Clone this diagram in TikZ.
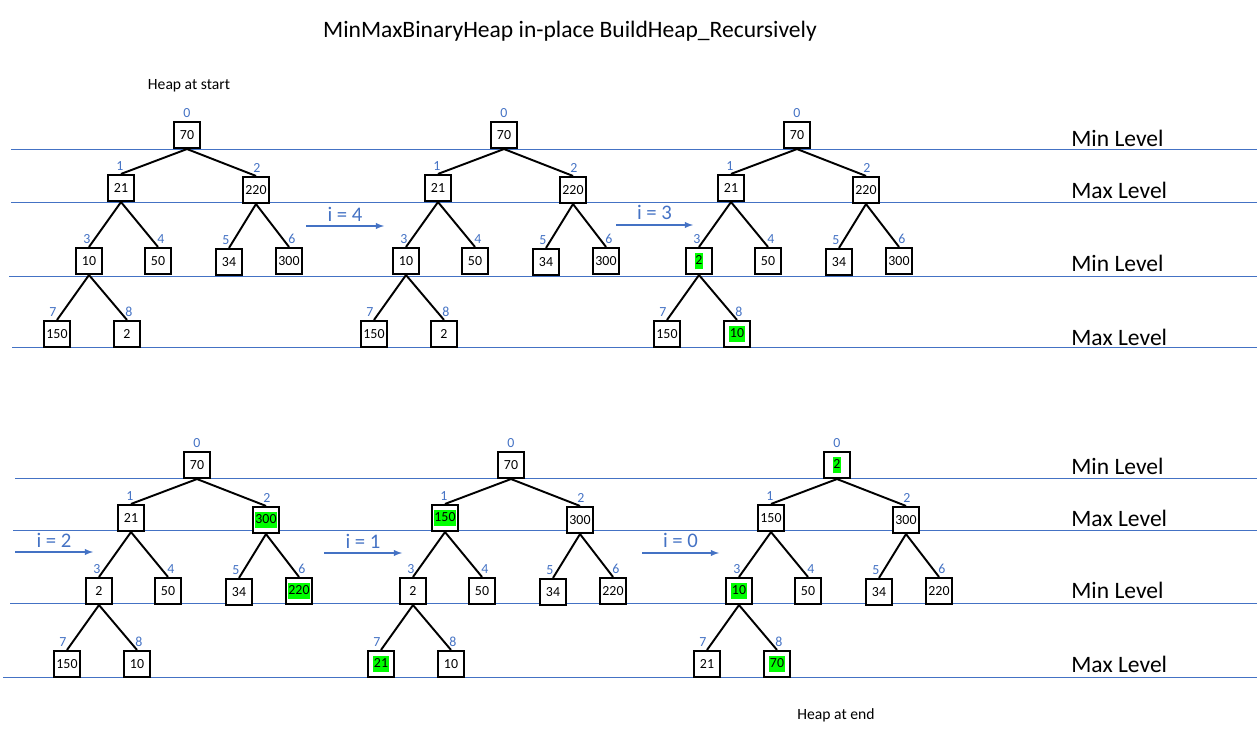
\documentclass[tikz,border=0pt]{standalone}
\usepackage{fontspec}
\setmainfont{Carlito}
\usetikzlibrary{arrows}
\definecolor{lvlblue}{HTML}{4472C4}
\definecolor{hlgreen}{HTML}{00FF00}
\newcommand{\hl}[1]{{\setlength{\fboxsep}{0.3pt}\colorbox{hlgreen}{\strut #1}}}
\tikzset{
  heapbox/.style={draw, line width=1.3pt, fill=white, minimum size=14.7pt, inner sep=0pt,
    font=\fontsize{7.9}{9}\selectfont},
  idx/.style={text=lvlblue, inner sep=0.5pt, font=\fontsize{7.9}{9}\selectfont},
  treeedge/.style={line width=1.1pt},
  levelline/.style={lvlblue, line width=0.5pt},
  iterarrow/.style={lvlblue, line width=0.6pt, -latex},
  iterlabel/.style={above=1.5pt, inner sep=1pt, text=lvlblue, font=\fontsize{11.8}{14}\selectfont},
  leveltext/.style={anchor=west, inner sep=0pt, font=\fontsize{13.4}{16}\selectfont},
}
% one heap drawn as a tree: name, shift, values 0..8
\newcommand{\heaptree}[3]{%
  \begin{scope}[shift={#2}]
  \foreach \v [count=\k from 0] in {#3} {
    \pgfmathsetmacro{\px}{{187,121,256,89,158,229,289,57,127}[\k]}
    \pgfmathsetmacro{\py}{{135,188,190,261,261,262,261,334,334}[\k]}
    \pgfmathsetmacro{\dx}{{0,-1,1,-2,3,-3,3,-4,2}[\k]}
    \node[heapbox, label={[idx, label distance=1.4pt, xshift=\dx*0.02cm]above:\k}] (#1-\k) at (\px,\py) {\v};
  }
  \foreach \p/\c in {0/1,0/2,1/3,1/4,2/5,2/6,3/7,3/8}
    \draw[treeedge] (#1-\p.south) -- (#1-\c.north);
  \end{scope}}

\begin{document}
\begin{tikzpicture}[x=0.02cm, y=-0.02cm]
\useasboundingbox (0,0) rectangle (1257,732);

% level lines
\draw[levelline] (11,149) -- (1257,149);
\draw[levelline] (11,202) -- (1257,202);
\draw[levelline] (9,276) -- (1257,276);
\draw[levelline] (12,347) -- (1257,347);
\draw[levelline] (15,478) -- (1257,478);
\draw[levelline] (13,530) -- (1257,530);
\draw[levelline] (10,603) -- (1257,603);
\draw[levelline] (3,677) -- (1257,677);

\node[font=\fontsize{13.4}{16}\selectfont] (title) at (570,31) {MinMaxBinaryHeap in-place BuildHeap\_Recursively};
\node[font=\fontsize{8.9}{11}\selectfont] (hstart) at (189,86) {Heap at start};
\node[font=\fontsize{8.9}{11}\selectfont] (hend) at (836,715) {Heap at end};

\node[leveltext] (lv1) at (1071,138) {Min Level};
\node[leveltext] (lv2) at (1071,190) {Max Level};
\node[leveltext] (lv3) at (1071,263) {Min Level};
\node[leveltext] (lv4) at (1071,337) {Max Level};
\node[leveltext] (lv5) at (1071,466) {Min Level};
\node[leveltext] (lv6) at (1071,518) {Max Level};
\node[leveltext] (lv7) at (1071,590) {Min Level};
\node[leveltext] (lv8) at (1071,664) {Max Level};

% heaps
\heaptree{start}{(0,0)}{70,21,220,10,50,34,300,150,2}
\heaptree{ifour}{(317,0)}{70,21,220,10,50,34,300,150,2}
\heaptree{ithree}{(610,0)}{70,21,220,\hl{2},50,34,300,150,\hl{10}}
\heaptree{itwo}{(10,330)}{70,21,\hl{300},2,50,34,\hl{220},150,10}
\heaptree{ione}{(324,330)}{70,\hl{150},300,2,50,34,220,\hl{21},10}
\heaptree{izero}{(650,330)}{\hl{2},150,300,\hl{10},50,34,220,21,\hl{70}}

% step arrows
\coordinate (a4s) at (306,226); \coordinate (a4e) at (384,226);
\coordinate (a3s) at (616,225); \coordinate (a3e) at (693,225);
\coordinate (a2s) at (15,552);  \coordinate (a2e) at (93,552);
\coordinate (a1s) at (324,553); \coordinate (a1e) at (402,553);
\coordinate (a0s) at (642,553); \coordinate (a0e) at (719,553);
\draw[iterarrow] (a4s) -- node[iterlabel] {i = 4} (a4e);
\draw[iterarrow] (a3s) -- node[iterlabel] {i = 3} (a3e);
\draw[iterarrow] (a2s) -- node[iterlabel] {i = 2} (a2e);
\draw[iterarrow] (a1s) -- node[iterlabel] {i = 1} (a1e);
\draw[iterarrow] (a0s) -- node[iterlabel] {i = 0} (a0e);
\end{tikzpicture}
\end{document}
